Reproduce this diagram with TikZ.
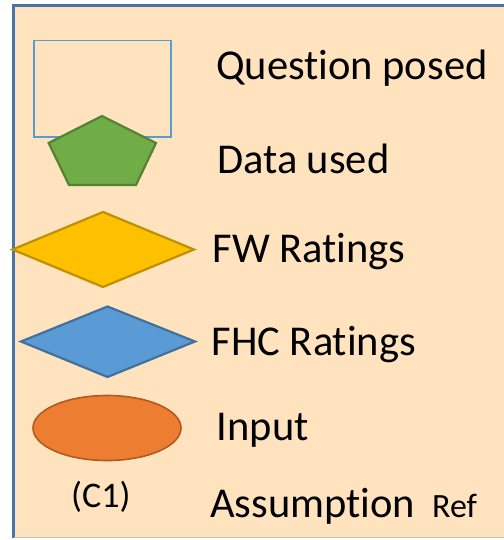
\documentclass[tikz,border=0pt]{standalone}
\usepackage{fontspec}
\setmainfont[Ligatures=CommonOff]{Carlito}
\definecolor{panel}{HTML}{FFE3BF}
\definecolor{frameblue}{HTML}{4A74A8}
\definecolor{qblue}{HTML}{5B9BD5}
\definecolor{greenfill}{HTML}{70AD47}
\definecolor{greenline}{HTML}{548235}
\definecolor{goldfill}{HTML}{FFC000}
\definecolor{goldline}{HTML}{BF9000}
\definecolor{bluefill}{HTML}{5B9BD5}
\definecolor{blueline}{HTML}{41719C}
\definecolor{orangefill}{HTML}{ED7D31}
\definecolor{orangeline}{HTML}{AE5A21}
\tikzset{
  legendtext/.style={anchor=base west, inner sep=0pt, font=\fontsize{42.5}{42.5}\selectfont},
  smalltext/.style={anchor=base west, inner sep=0pt, font=\fontsize{34}{34}\selectfont},
  shapeline/.style={line width=2.2pt, line join=miter}
}
\begin{document}
\begin{tikzpicture}[x=1pt,y=-1pt]
\useasboundingbox (0,0) rectangle (503,540);
% legend panel
\fill[panel] (13.5,6) rectangle (510,537.5);
\draw[frameblue, line width=3pt] (13.5,537.5) -- (13.5,6) -- (510,6);
\draw[gray!50, line width=1.2pt] (13.5,537.5) -- (510,537.5);
% symbols
\draw[qblue, line width=1.3pt] (34,40.5) rectangle (171,137);
\filldraw[fill=greenfill, draw=greenline, shapeline]
  (102,116) -- (156,143) -- (136,185) -- (69,185) -- (48.7,143) -- cycle;
\filldraw[fill=goldfill, draw=goldline, shapeline]
  (12.5,249.5) -- (103,212) -- (194,249.5) -- (103,287) -- cycle;
\filldraw[fill=bluefill, draw=blueline, shapeline]
  (21,341.5) -- (107.5,306.5) -- (195,341.5) -- (107.5,377) -- cycle;
\filldraw[fill=orangefill, draw=orangeline, line width=1.6pt]
  (107,428) ellipse [x radius=74, y radius=32.5];
% labels
\node[legendtext] (question) at (216,80) {Question posed};
\node[legendtext] (data) at (217,173) {Data used};
\node[legendtext] (fw) at (212.5,262.5) {FW Ratings};
\node[legendtext] (fhc) at (211.5,355) {FHC Ratings};
\node[legendtext] (input) at (216.5,440) {Input};
\node[smalltext, font=\fontsize{36}{36}\selectfont] (cone) at (71,507) {(C1)};
\node[legendtext] (assume) at (210,517) {Assumption};
\node[smalltext] (ref) at (432,517) {Ref};
\end{tikzpicture}
\end{document}
